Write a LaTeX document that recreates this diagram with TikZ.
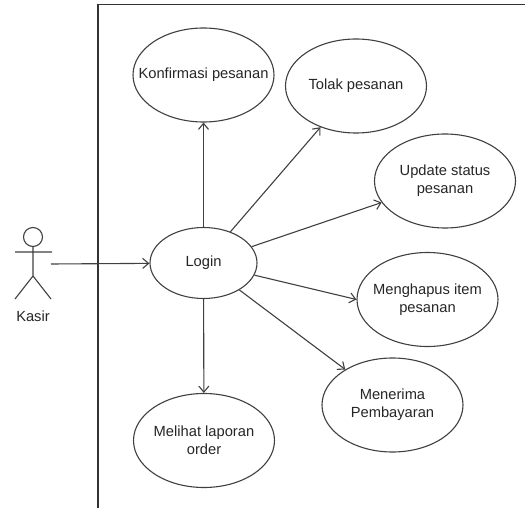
\documentclass[tikz,border=0pt]{standalone}
\usepackage{fontspec}
\setmainfont{Liberation Sans}
\usetikzlibrary{shapes.geometric,arrows.meta}
\begin{document}
\begin{tikzpicture}
        [
        x=1pt, y=-1pt,
        align=center,
        font=\fontsize{14.7pt}{18pt}\selectfont,
        text=black!85,
        line width=1.1pt,
        usecase/.style={ellipse, fill=white, draw=black!75, inner xsep=-25pt, inner ysep=0pt, minimum width=141pt, minimum height=94pt},
        link/.style={draw=black!75, -{Straight Barb[length=6pt,width=10pt]}},
        ]
                \useasboundingbox (0,0) rectangle (525,508);
                
                % system border
                \coordinate (bc) at (525,4.5);
                \coordinate (bt) at (98,4.5);
                \coordinate (bb) at (98,508);
                \draw[draw=black!80] (bc) -- (bt) -- (bb);
                
                % use cases
                \node[usecase, minimum width=107pt, minimum height=71pt] (login) at (203.5,263) {Login};
                \node[usecase] (konf) at (203.5,75) {Konfirmasi pesanan};
                \node[usecase] (tolak) at (356,86) {Tolak pesanan};
                \node[usecase] (update) at (445,181) {Update status\\pesanan};
                \node[usecase] (hapus) at (427.5,299.5) {Menghapus item\\pesanan};
                \node[usecase] (terima) at (392.5,405) {Menerima\\Pembayaran};
                \node[usecase] (lapor) at (204,440.5) {Melihat laporan\\order};
                
                % actor
                \node[circle, draw=black!75, minimum size=19pt, inner sep=0pt] (head) at (33,237) {};
                \coordinate (hip) at (33,276);
                \coordinate (armL) at (15,252);
                \coordinate (armR) at (52,252);
                \coordinate (footL) at (15,299);
                \coordinate (footR) at (51,299);
                \node (kasir) at (33,316) {Kasir};
                \draw[draw=black!75] (head) -- (hip) (armL) -- (armR) (footL) -- (hip) -- (footR);
                
                % drawing code
                \coordinate (src) at (51,264);
                \draw[link] (src) -- (login);
                \foreach \to in {konf,tolak,update,hapus.west,terima,lapor} \draw[link] (login) -- (\to);
        \end{tikzpicture}
\end{document}
